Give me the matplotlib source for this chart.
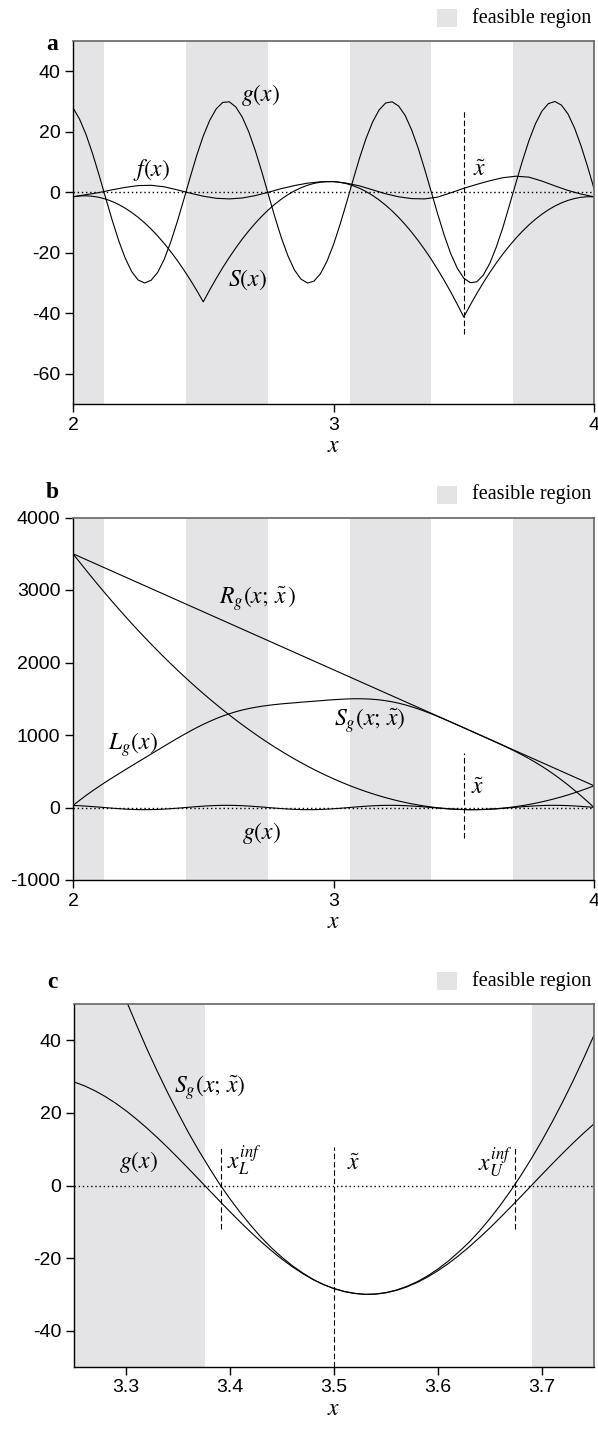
import numpy as np
import matplotlib
matplotlib.use("Agg")
import matplotlib.pyplot as plt
from matplotlib.patches import Rectangle

plt.rcParams["font.family"] = ["Liberation Sans", "DejaVu Sans"]
plt.rcParams["mathtext.fontset"] = "stix"
plt.rcParams["axes.unicode_minus"] = False

# ---- data ----
# grids: panels a/b every 0.025, f(x) every 0.05, panel c every 0.01
x_ab = np.linspace(2.0, 4.0, 81)
x_f = np.linspace(2.0, 4.0, 41)
x_c = np.linspace(3.25, 3.75, 51)

g_ab = [27.9, 24.2, 19.1, 12.8, 5.7, -1.8, -9.1, -15.9, -21.7, -26.2,
        -29.0, -30.0, -29.1, -26.5, -22.2, -16.5, -9.8, -2.5, 5.0, 12.2,
        18.6, 23.8, 27.6, 29.7, 29.9, 28.2, 24.8, 19.9, 13.7, 6.7,
        -0.8, -8.2, -15.1, -21.0, -25.7, -28.7, -30.0, -29.4, -26.9, -22.8,
        -17.3, -10.7, -3.5, 4.0, 11.3, 17.8, 23.2, 27.2, 29.5, 29.9,
        28.5, 25.4, 20.6, 14.6, 7.6, 0.2, -7.2, -14.2, -20.3, -25.1,
        -28.4, -29.9, -29.6, -27.4, -23.5, -18.1, -11.7, -4.4, 3.0, 10.3,
        17.0, 22.6, 26.8, 29.3, 30.0, 28.8, 25.9, 21.3, 15.4, 8.6, 1.2]

f_a = [-1.5, -0.8, -0.1, 0.8, 1.6, 2.2, 2.3, 1.8, 0.8, -0.3,
       -1.3, -2.0, -2.2, -1.9, -1.1, 0.0, 1.2, 2.2, 3.0, 3.45,
       3.55, 3.0, 2.1, 0.8, -0.5, -1.5, -2.1, -2.2, -1.6, -0.2,
       1.3, 2.6, 3.8, 4.8, 5.3, 5.0, 3.7, 2.1, 0.6, -0.6, -1.5]

S_a = [-1.5, -1.23, -1.17, -1.32, -1.68, -2.25, -3.04, -4.03, -5.24, -6.66,
       -8.29, -10.13, -12.18, -14.44, -16.92, -19.60, -22.50, -25.61, -28.93, -32.46,
       -36.23, -32.26, -28.47, -24.90, -21.54, -18.39, -15.45, -12.73, -10.21, -7.91,
       -5.81, -3.93, -2.26, -0.80, 0.45, 1.48, 2.31, 2.92, 3.33, 3.52,
       3.50, 3.27, 2.83, 2.17, 1.31, 0.23, -1.05, -2.55, -4.26, -6.18,
       -8.31, -10.66, -13.21, -15.98, -18.95, -22.14, -25.54, -29.15, -32.97, -37.01,
       -41.25, -37.26, -33.47, -29.90, -26.54, -23.39, -20.45, -17.73, -15.21, -12.91,
       -10.81, -8.93, -7.26, -5.80, -4.55, -3.52, -2.69, -2.08, -1.67, -1.48, -1.5]

L_b = [28, 98, 166, 230, 291, 351, 408, 464, 520, 574,
       629, 683, 738, 792, 846, 900, 953, 1004, 1054, 1102,
       1147, 1188, 1227, 1262, 1293, 1321, 1345, 1365, 1382, 1397,
       1409, 1420, 1429, 1437, 1444, 1452, 1459, 1466, 1473, 1480,
       1487, 1492, 1497, 1500, 1500, 1498, 1493, 1485, 1473, 1458,
       1439, 1416, 1389, 1360, 1327, 1293, 1256, 1218, 1179, 1140,
       1100, 1060, 1019, 979, 939, 898, 857, 814, 770, 724,
       675, 623, 568, 510, 447, 381, 312, 238, 162, 83, 1]

Sg_b = [3500.7, 3386.3, 3274.0, 3163.5, 3054.8, 2948.1, 2843.2, 2740.2, 2639.1, 2539.8,
        2442.5, 2347.0, 2253.4, 2161.7, 2071.8, 1983.9, 1897.8, 1813.6, 1731.3, 1650.8,
        1572.3, 1495.6, 1420.9, 1347.9, 1276.8, 1207.7, 1140.4, 1075.1, 1011.6, 949.8,
        890.1, 832.2, 776.3, 722.2, 669.9, 619.5, 571.0, 524.5, 479.8, 436.9,
        396.0, 356.8, 319.7, 284.4, 250.9, 219.4, 189.7, 161.9, 136.0, 111.9,
        89.8, 69.5, 51.1, 34.6, 19.9, 7.2, -3.7, -12.7, -19.8, -25.1,
        -28.4, -29.9, -29.4, -27.2, -23.0, -17.0, -9.1, 0.8, 12.5, 25.9,
        41.4, 58.7, 78.0, 99.1, 122.0, 146.8, 173.5, 202.2, 232.7, 265.0, 299.3]

R_x = [2.0, 4.0]
R_b = [3500, 300]

g_c = [28.53, 27.47, 26.12, 24.52, 22.67, 20.60, 18.31, 15.84, 13.23, 10.48,
       7.61, 4.69, 1.70, -1.30, -4.28, -7.23, -10.10, -12.87, -15.51, -17.99,
       -20.30, -22.40, -24.28, -25.92, -27.31, -28.40, -29.22, -29.76, -29.99, -29.92,
       -29.56, -28.89, -27.94, -26.71, -25.22, -23.47, -21.49, -19.29, -16.90, -14.34,
       -11.66, -8.81, -5.91, -2.95, 0.05, 3.05, 6.01, 8.91, 11.73, 14.43, 16.98]

Sg_c = [89.8, 81.4, 73.4, 65.7, 58.2, 51.1, 44.3, 37.7, 31.5, 25.6,
        20.0, 14.6, 9.6, 4.9, 0.4, -3.7, -7.5, -11.0, -14.3, -17.2,
        -19.8, -22.1, -24.1, -25.9, -27.3, -28.4, -29.2, -29.7, -30.0, -29.9,
        -29.5, -28.8, -27.8, -26.5, -24.9, -23.0, -20.8, -18.3, -15.6, -12.5,
        -9.1, -5.4, -1.4, 2.9, 7.5, 12.4, 17.6, 23.1, 28.9, 35.0, 41.4]

feasible = [(2.0, 2.119), (2.433, 2.747), (3.062, 3.376), (3.690, 4.0)]
x_tilde = 3.5
x_L_inf = 3.391
x_U_inf = 3.674

W, H = 598, 1431
BAND = "#e4e4e6"
LW = 0.8
DASH = (0, (5, 2.5))
SERIF = ["Liberation Serif", "DejaVu Serif"]
FS = 17


def fig_rect(left, top, right, bottom):
    return [left / W, 1 - bottom / H, (right - left) / W, (bottom - top) / H]


def style_axes(ax, xlim, ylim, xticks, yticks):
    for a, b in feasible:
        ax.axvspan(a, b, color=BAND, lw=0, zorder=0)
    ax.axhline(0, color="k", lw=1.0, ls=(0, (1, 2)), zorder=1)
    ax.set_xlim(*xlim)
    ax.set_ylim(*ylim)
    ax.set_xticks(xticks)
    ax.set_yticks(yticks)
    ax.tick_params(direction="out", length=6, width=1, labelsize=14)
    ax.tick_params(axis="y", pad=3)
    ax.tick_params(axis="x", pad=3)
    for s in ("left", "bottom"):
        ax.spines[s].set_color("k")
        ax.spines[s].set_linewidth(1.0)
    for s in ("top", "right"):
        ax.spines[s].set_color("#666666")
        ax.spines[s].set_linewidth(1.2)
    ax.set_xlabel("$x$", fontsize=FS, labelpad=1)


def add_legend(fig, top_px, letter, letter_px):
    cy = top_px - 23
    fig.patches.append(Rectangle((437 / W, 1 - (cy + 9) / H), 20 / W, 18 / H,
                                 transform=fig.transFigure, color=BAND, lw=0))
    fig.text(472 / W, 1 - cy / H, "feasible region", family=SERIF, fontsize=14.5,
             ha="left", va="center")
    fig.text(52 / W, 1 - letter_px / H, letter, family=SERIF, fontsize=17,
             fontweight="bold", ha="center", va="center")


fig = plt.figure(figsize=(W / 100, H / 100), dpi=100)

# ---- panel a ----
ax = fig.add_axes(fig_rect(73, 41, 594, 404))
style_axes(ax, (2, 4), (-70, 50), [2, 3, 4], [-60, -40, -20, 0, 20, 40])
ax.plot(x_ab, g_ab, color="k", lw=LW)
ax.plot(x_f, f_a, color="k", lw=LW)
ax.plot(x_ab, S_a, color="k", lw=LW)
ax.plot([x_tilde, x_tilde], [-47, 27], color="k", lw=LW, ls=DASH)
ax.text(2.72, 32, "$g(x)$", fontsize=FS, ha="center", va="center")
ax.text(2.30, 7.5, "$f(x)$", fontsize=FS, ha="center", va="center")
ax.text(2.67, -29, "$S(x)$", fontsize=FS, ha="center", va="center")
ax.text(3.56, 7.5, r"$\tilde{x}$", fontsize=FS, ha="center", va="center")
add_legend(fig, 41, "a", 44)

# ---- panel b ----
ax = fig.add_axes(fig_rect(73, 517.5, 594, 880))
style_axes(ax, (2, 4), (-1000, 4000), [2, 3, 4], [-1000, 0, 1000, 2000, 3000, 4000])
ax.plot(x_ab, g_ab, color="k", lw=LW)
ax.plot(R_x, R_b, color="k", lw=LW)
ax.plot(x_ab, L_b, color="k", lw=LW)
ax.plot(x_ab, Sg_b, color="k", lw=LW)
ax.plot([x_tilde, x_tilde], [-420, 750], color="k", lw=LW, ls=DASH)
ax.text(2.71, 2880, r"$R_g(x;\,\tilde{x}\,)$", fontsize=FS, ha="center", va="center")
ax.text(2.23, 870, "$L_g(x)$", fontsize=FS, ha="center", va="center")
ax.text(3.14, 1200, r"$S_g(x;\,\tilde{x})$", fontsize=FS, ha="center", va="center")
ax.text(3.555, 275, r"$\tilde{x}$", fontsize=FS, ha="center", va="center")
ax.text(2.725, -350, "$g(x)$", fontsize=FS, ha="center", va="center")
add_legend(fig, 517.5, "b", 492)

# ---- panel c ----
ax = fig.add_axes(fig_rect(74, 1004, 594, 1367))
style_axes(ax, (3.25, 3.75), (-50, 50), [3.3, 3.4, 3.5, 3.6, 3.7], [-40, -20, 0, 20, 40])
ax.plot(x_c, g_c, color="k", lw=LW)
ax.plot(x_c, Sg_c, color="k", lw=LW)
ax.plot([x_tilde, x_tilde], [-50, 10.5], color="k", lw=LW, ls=DASH)
ax.plot([x_L_inf, x_L_inf], [-12, 10.5], color="k", lw=LW, ls=DASH)
ax.plot([x_U_inf, x_U_inf], [-12, 10.5], color="k", lw=LW, ls=DASH)
ax.text(3.381, 27, r"$S_g(x;\,\tilde{x})$", fontsize=FS, ha="center", va="center")
ax.text(3.312, 6.6, "$g(x)$", fontsize=FS, ha="center", va="center")
ax.text(3.414, 7, "$x_L^{inf}$", fontsize=FS, ha="center", va="center")
ax.text(3.519, 6, r"$\tilde{x}$", fontsize=FS, ha="center", va="center")
ax.text(3.655, 6.5, "$x_U^{inf}$", fontsize=FS, ha="center", va="center")
add_legend(fig, 1004, "c", 983)

fig.savefig("out.png", dpi=100)
